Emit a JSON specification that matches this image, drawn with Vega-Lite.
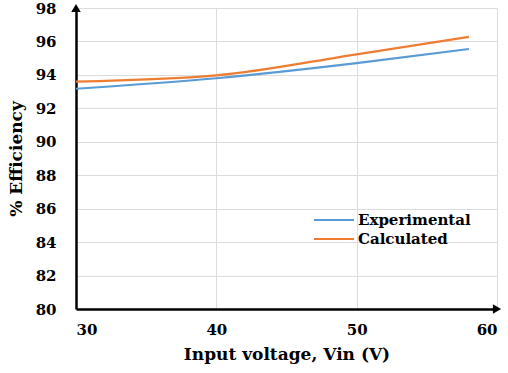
{
  "$schema": "https://vega.github.io/schema/vega-lite/v6.json",
  "width": 421,
  "height": 301,
  "autosize": {"type": "none"},
  "padding": {"left": 76, "top": 8, "right": 11, "bottom": 64},
  "background": "white",
  "config": {
    "view": {"stroke": null},
    "font": "DejaVu Serif"
  },
  "datasets": {
    "eff": [
      {"vin": 30, "eff": 93.17, "series": "Experimental"},
      {"vin": 40, "eff": 93.8, "series": "Experimental"},
      {"vin": 50, "eff": 94.7, "series": "Experimental"},
      {"vin": 58, "eff": 95.55, "series": "Experimental"},
      {"vin": 30, "eff": 93.6, "series": "Calculated"},
      {"vin": 40, "eff": 93.97, "series": "Calculated"},
      {"vin": 50, "eff": 95.23, "series": "Calculated"},
      {"vin": 58, "eff": 96.27, "series": "Calculated"}
    ],
    "arrows": [
      {"vin": 30, "eff": 98, "shape": "triangle-up"},
      {"vin": 60, "eff": 80, "shape": "triangle-right"}
    ]
  },
  "encoding": {
    "x": {
      "field": "vin", "type": "quantitative",
      "scale": {"domain": [30, 60], "nice": false},
      "axis": {
        "values": [30, 40, 50, 60],
        "labelOverlap": false,
        "title": "Input voltage, Vin (V)",
        "titleFont": "DejaVu Serif", "titleFontSize": 17, "titleFontWeight": "bold", "titleColor": "black",
        "titlePadding": 9,
        "labelFont": "DejaVu Serif", "labelFontSize": 15, "labelFontWeight": "bold", "labelColor": "black",
        "labelPadding": 13,
        "ticks": false,
        "domainColor": "black", "domainWidth": 2.5,
        "gridColor": "#dcdcdc", "gridWidth": 1
      }
    },
    "y": {
      "field": "eff", "type": "quantitative",
      "scale": {"domain": [80, 98], "nice": false, "zero": false},
      "axis": {
        "values": [80, 82, 84, 86, 88, 90, 92, 94, 96, 98],
        "labelOverlap": false,
        "title": "% Efficiency",
        "titleFont": "DejaVu Serif", "titleFontSize": 17, "titleFontWeight": "bold", "titleColor": "black",
        "titlePadding": 10,
        "labelFont": "DejaVu Serif", "labelFontSize": 15, "labelFontWeight": "bold", "labelColor": "black",
        "labelPadding": 20,
        "ticks": false,
        "domainColor": "black", "domainWidth": 2.5,
        "gridColor": "#dcdcdc", "gridWidth": 1
      }
    }
  },
  "layer": [
    {
      "data": {"name": "eff"},
      "mark": {"type": "line", "interpolate": "monotone", "strokeWidth": 2.2},
      "encoding": {
        "color": {
          "field": "series", "type": "nominal",
          "scale": {"domain": ["Experimental", "Calculated"], "range": ["#5B9BD5", "#ED7D31"]},
          "legend": {
            "title": null,
            "orient": "none",
            "legendX": 237,
            "legendY": 204,
            "symbolType": "stroke",
            "symbolSize": 1600,
            "symbolStrokeWidth": 2,
            "clipHeight": 16,
            "labelFont": "DejaVu Serif", "labelFontSize": 15, "labelFontWeight": "bold", "labelColor": "black",
            "labelOffset": 3,
            "rowPadding": 3
          }
        }
      }
    },
    {
      "data": {"name": "arrows"},
      "mark": {"type": "point", "filled": true, "color": "black", "size": 90, "opacity": 1},
      "encoding": {
        "shape": {"field": "shape", "type": "nominal", "scale": null, "legend": null}
      }
    }
  ]
}
